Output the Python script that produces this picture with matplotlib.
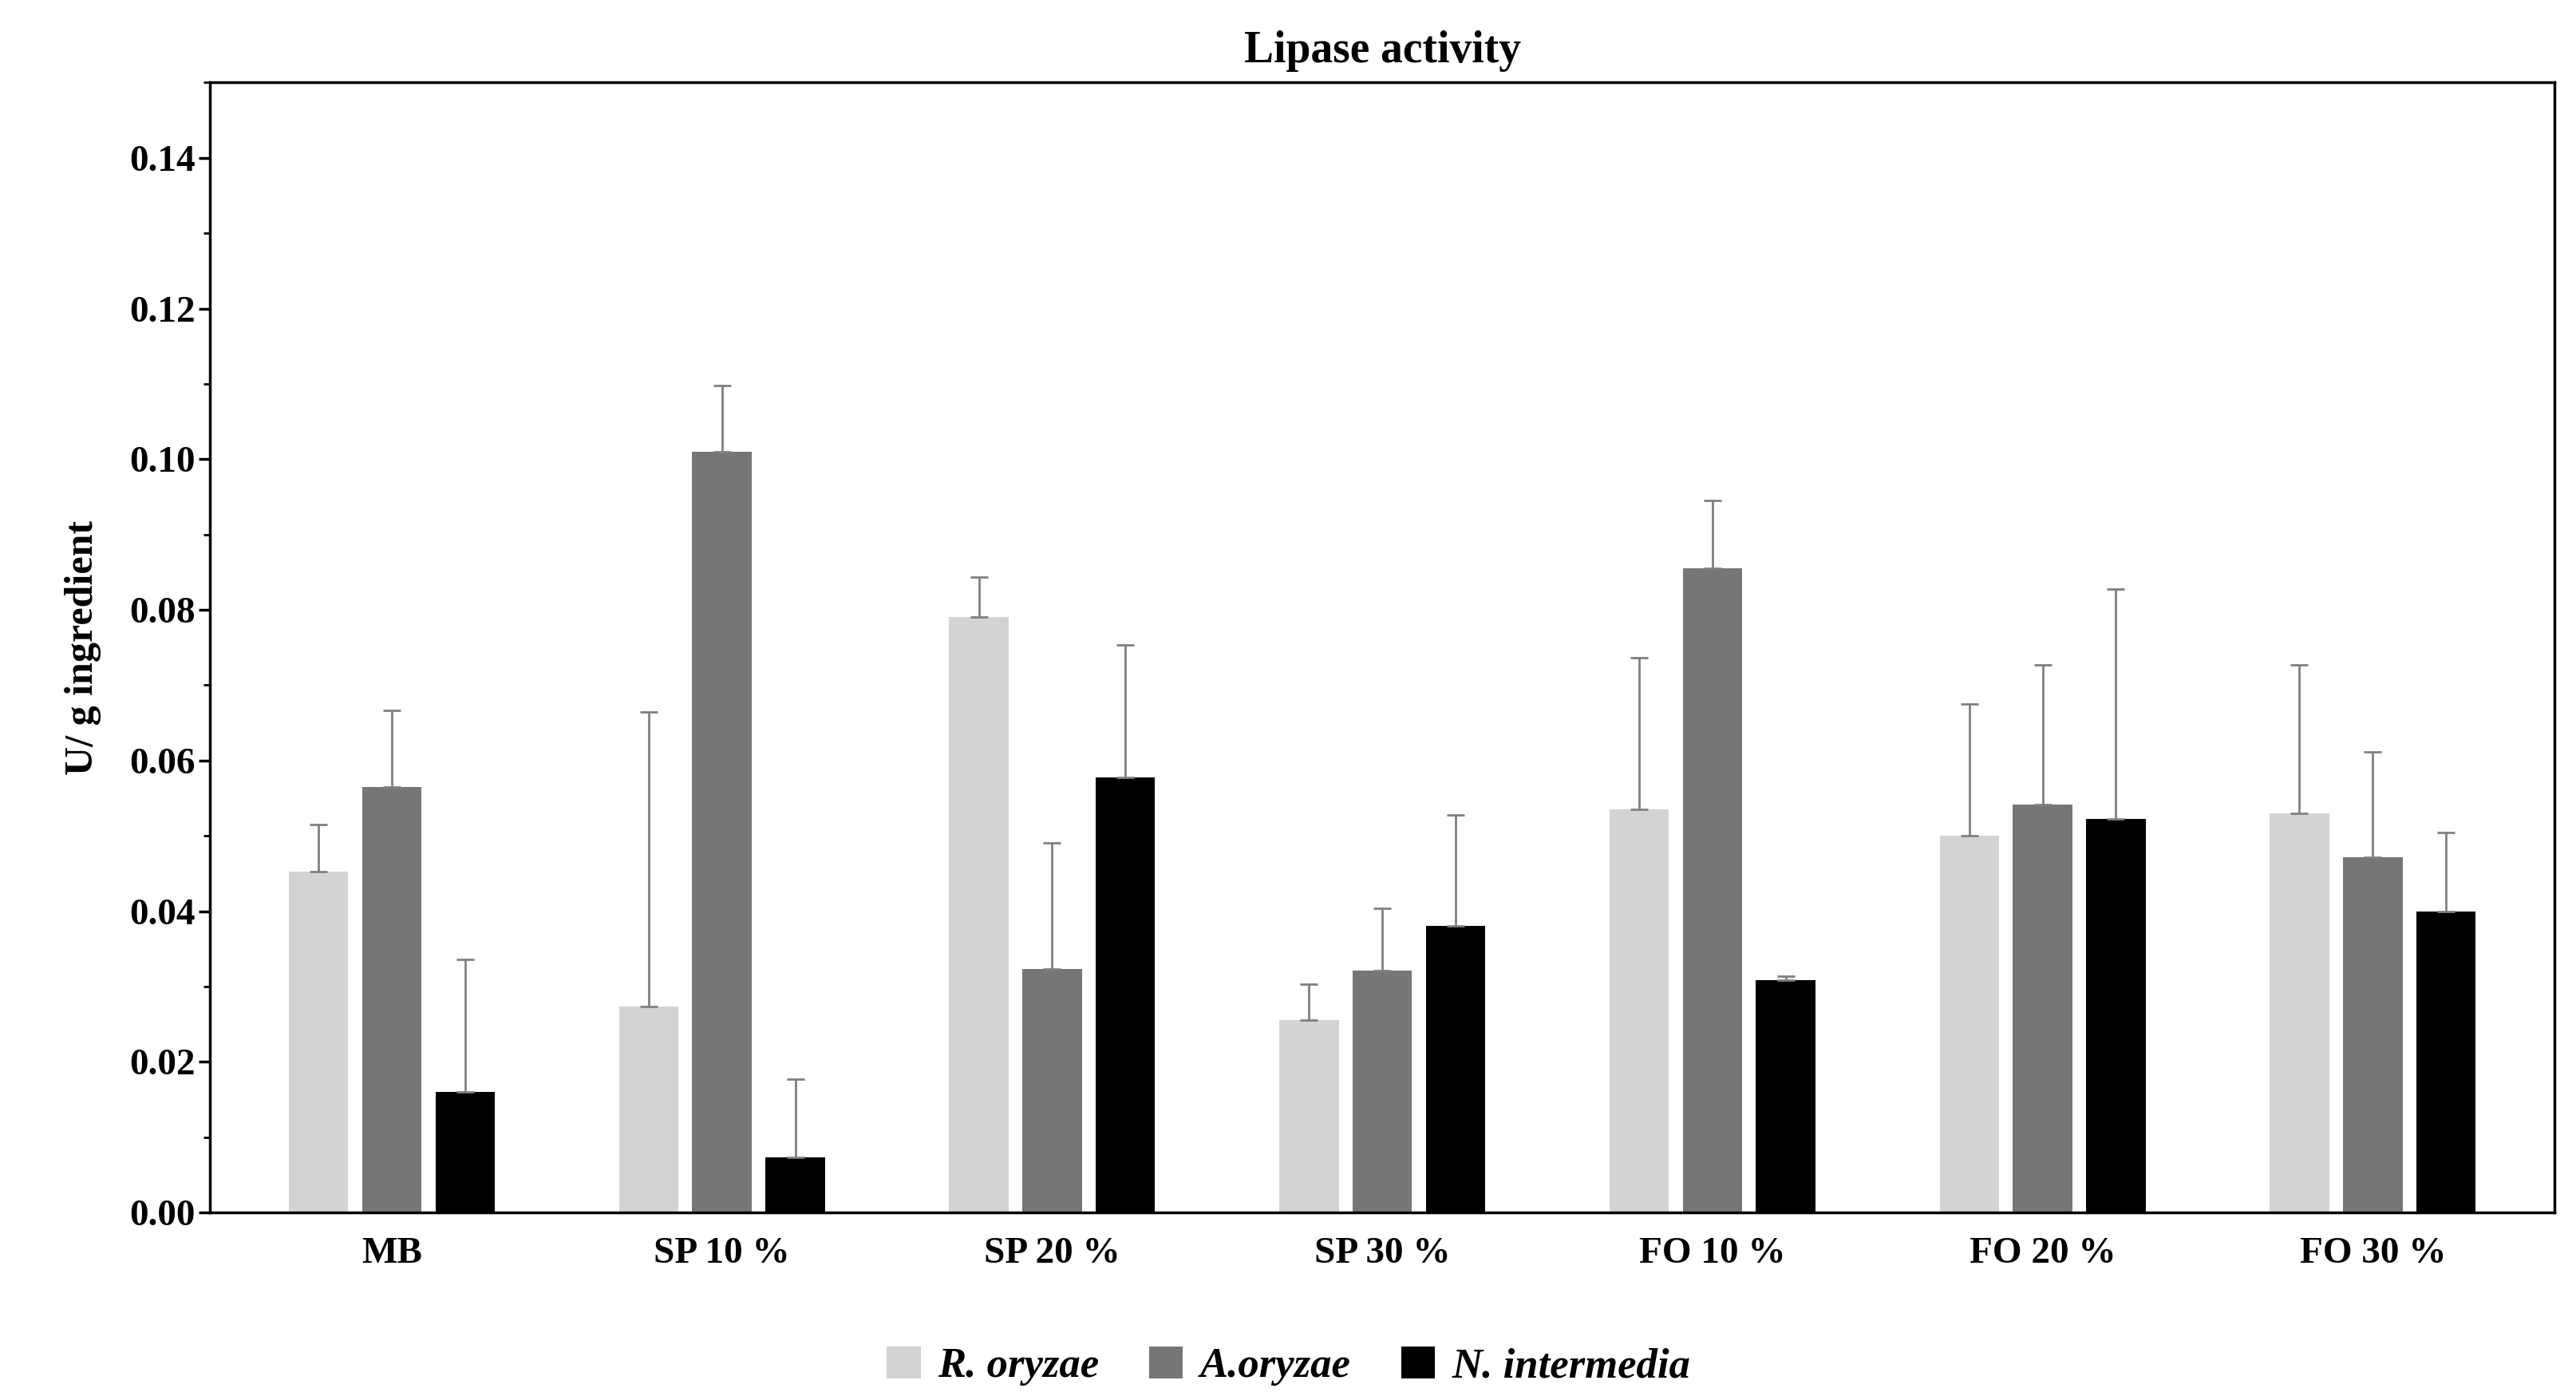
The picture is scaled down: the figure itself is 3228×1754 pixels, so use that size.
import numpy as np
import matplotlib.pyplot as plt
from matplotlib.ticker import MultipleLocator

plt.rcParams['font.family'] = ['Liberation Serif', 'DejaVu Serif']
plt.rcParams['font.weight'] = 'bold'

categories = ["MB", "SP 10 %", "SP 20 %", "SP 30 %", "FO 10 %", "FO 20 %", "FO 30 %"]
series = ["R. oryzae", "A.oryzae", "N. intermedia"]
r_oryzae = [0.0452, 0.0273, 0.0790, 0.0255, 0.0535, 0.0500, 0.0530]
a_oryzae = [0.0565, 0.1010, 0.0323, 0.0321, 0.0855, 0.0542, 0.0472]
n_intermedia = [0.0160, 0.0073, 0.0577, 0.0380, 0.0308, 0.0522, 0.0400]
r_err = [0.0063, 0.0391, 0.0053, 0.0048, 0.0201, 0.0175, 0.0197]
a_err = [0.0101, 0.0088, 0.0168, 0.0083, 0.0090, 0.0185, 0.0139]
n_err = [0.0176, 0.0104, 0.0176, 0.0148, 0.0006, 0.0306, 0.0104]
colors = ["#d3d3d3", "#767676", "#000000"]

fig = plt.figure(figsize=(32.28, 17.54), dpi=100)
ax = fig.add_axes([0.0816, 0.134, 0.910, 0.807])

x = np.arange(len(categories))
w = 0.18
off = 0.222
for i, (vals, errs) in enumerate(zip([r_oryzae, a_oryzae, n_intermedia], [r_err, a_err, n_err])):
    pos = x + (i - 1) * off
    ax.bar(pos, vals, w, color=colors[i], label=series[i])
    ax.errorbar(pos, vals, yerr=[np.zeros(len(errs)), errs], fmt='none',
                ecolor='#808080', elinewidth=2, capsize=8, capthick=2)

ax.set_xlim(-0.55, len(categories) - 0.45)
ax.set_ylim(0, 0.15)
ax.yaxis.set_major_locator(MultipleLocator(0.02))
ax.yaxis.set_minor_locator(MultipleLocator(0.01))
ax.set_yticks(np.arange(0, 0.141, 0.02))
ax.set_yticklabels([f"{v:.2f}" for v in np.arange(0, 0.141, 0.02)])
ax.set_xticks(x)
ax.set_xticklabels(categories)
ax.tick_params(axis='both', labelsize=34, width=2.5, length=10)
ax.tick_params(axis='y', which='minor', width=2, length=6)
ax.tick_params(axis='x', length=0, pad=22)
for s in ax.spines.values():
    s.set_linewidth(2.5)
ax.set_ylabel("U/ g ingredient", fontsize=36, fontweight='bold', labelpad=25)
ax.set_title("Lipase activity", fontsize=40, fontweight='bold', pad=18)

leg = ax.legend(loc='upper center', bbox_to_anchor=(0.46, -0.085), ncol=3, frameon=False,
                prop={'size': 38, 'weight': 'bold', 'style': 'italic'},
                handlelength=0.8, handleheight=0.8, handletextpad=0.4, columnspacing=1.2)

fig.savefig("out.png", dpi=100)
